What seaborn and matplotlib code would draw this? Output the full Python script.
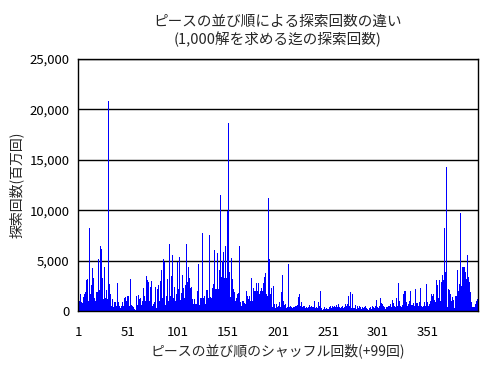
import numpy as np
import pandas as pd
import matplotlib
matplotlib.use("Agg")
import matplotlib.pyplot as plt
import seaborn as sns
from matplotlib.ticker import FuncFormatter

# -------------------------
# データ (探索回数, 百万回) シャッフル回数 1..400
# -------------------------
counts_001_050 = [1100, 1000, 1700, 900, 800, 1400, 1700, 1900, 3100, 3200,
                  1000, 8200, 1700, 2600, 4300, 3300, 1300, 1000, 1900, 1900,
                  5200, 2100, 6400, 6200, 3300, 1200, 4400, 1300, 2100, 1200,
                  20800, 2700, 1700, 500, 1200, 400, 900, 900, 500, 2800,
                  900, 500, 300, 500, 900, 500, 1300, 1400, 1000, 1500]
counts_051_100 = [1500, 500, 3200, 600, 500, 400, 200, 100, 1500, 600,
                  1600, 1200, 1300, 600, 1000, 2300, 1500, 1000, 3500, 3100,
                  2900, 1000, 2400, 3000, 500, 700, 900, 2400, 300, 2200,
                  2600, 1000, 3000, 4100, 1300, 5200, 4900, 600, 1500, 3200,
                  1000, 6600, 1500, 3500, 5600, 1300, 2400, 1000, 1700, 4900]
counts_101_150 = [2200, 5400, 1100, 1800, 3600, 2300, 1300, 2600, 6600, 2900,
                  4400, 3300, 2300, 2400, 1200, 700, 1200, 700, 700, 2000,
                  4700, 600, 1300, 1300, 7700, 1300, 1500, 700, 2100, 2100,
                  1300, 7500, 1400, 1300, 2300, 2700, 6100, 2200, 2200, 5800,
                  2200, 4100, 11500, 3400, 5000, 5900, 3300, 6400, 3300, 9900]
counts_151_200 = [18700, 3900, 1400, 5300, 3200, 2200, 1900, 1000, 1300, 1700,
                  1800, 6400, 900, 500, 1000, 1000, 800, 700, 2000, 1500,
                  1200, 1500, 1000, 3300, 1000, 2300, 2000, 2000, 2800, 2000,
                  2800, 1700, 2000, 2300, 2000, 2800, 3400, 3800, 1700, 1500,
                  11200, 5200, 1700, 2300, 400, 2500, 700, 300, 700, 400]
counts_201_250 = [500, 900, 400, 1900, 3600, 1000, 600, 700, 300, 400,
                  4700, 400, 500, 400, 300, 400, 400, 500, 500, 600,
                  1400, 1700, 500, 900, 400, 500, 500, 300, 400, 300,
                  400, 600, 400, 500, 400, 400, 1000, 300, 400, 300,
                  900, 500, 2000, 300, 100, 200, 400, 200, 300, 200]
counts_251_300 = [200, 400, 500, 300, 500, 400, 500, 400, 600, 400,
                  700, 400, 300, 400, 500, 300, 400, 700, 500, 700,
                  1500, 500, 1900, 300, 1700, 300, 300, 600, 200, 500,
                  300, 500, 400, 200, 400, 300, 400, 500, 300, 200,
                  100, 300, 400, 200, 500, 400, 300, 500, 1100, 400]
counts_301_350 = [300, 500, 1300, 800, 700, 500, 400, 200, 400, 400,
                  500, 500, 700, 400, 1100, 800, 500, 400, 1300, 500,
                  2800, 1000, 500, 400, 600, 1700, 2000, 2000, 900, 500,
                  700, 1000, 2000, 600, 600, 800, 500, 2200, 800, 800,
                  500, 900, 2300, 500, 400, 500, 900, 500, 2700, 900]
counts_351_400 = [500, 700, 1000, 1700, 1500, 1700, 1100, 900, 3100, 2600,
                  1300, 3100, 1000, 2900, 3600, 3100, 8200, 3900, 14300, 400,
                  2200, 2100, 1700, 1000, 1400, 1100, 300, 1500, 1500, 4100,
                  2000, 2700, 9700, 2500, 4400, 4400, 4400, 3900, 3200, 5600,
                  3400, 2900, 1900, 900, 400, 400, 400, 700, 1000, 1200]

counts = (counts_001_050 + counts_051_100 + counts_101_150 + counts_151_200
          + counts_201_250 + counts_251_300 + counts_301_350 + counts_351_400)
shuffle = list(range(1, len(counts) + 1))
tick_labels = ['1', '51', '101', '151', '201', '251', '301', '351']

df = pd.DataFrame({'shuffle': shuffle, 'count': counts})

# -------------------------
# 描画
# -------------------------
sns.set_style('white')
plt.rcParams['font.family'] = ['Noto Sans CJK JP', 'DejaVu Sans']

fig = plt.figure(figsize=(4.9, 3.66), dpi=100)
ax = fig.add_axes([78/490, 1-311/366, 400/490, 252/366])

sns.barplot(data=df, x='shuffle', y='count', color='#0000ff', saturation=1,
            width=1.0, linewidth=0, ax=ax, zorder=2)

ax.set_xlim(-0.5, len(counts) - 0.5)
ax.set_ylim(0, 25000)
ax.set_yticks(np.arange(0, 25001, 5000))
ax.yaxis.set_major_formatter(FuncFormatter(lambda v, p: f'{int(v):,}'))
ax.set_xticks([i - 0.5 for i in range(0, 400, 50)])
ax.set_xticklabels(tick_labels)
ax.tick_params(axis='both', length=0, labelsize=9.5, colors='black', pad=6)
ax.tick_params(axis='x', pad=11)

ax.grid(axis='y', color='black', linewidth=1, zorder=1)
ax.set_axisbelow(True)
for s in ax.spines.values():
    s.set_color('black')
    s.set_linewidth(1)
    s.set_visible(True)

ax.set_title('ピースの並び順による探索回数の違い\n(1,000解を求める迄の探索回数)',
             fontsize=10.5, pad=11, linespacing=1.15)
ax.set_xlabel('ピースの並び順のシャッフル回数(+99回)', fontsize=10, labelpad=3)
ax.set_ylabel('探索回数(百万回)', fontsize=10, labelpad=4)

fig.savefig('out.png', dpi=100, facecolor='white')
